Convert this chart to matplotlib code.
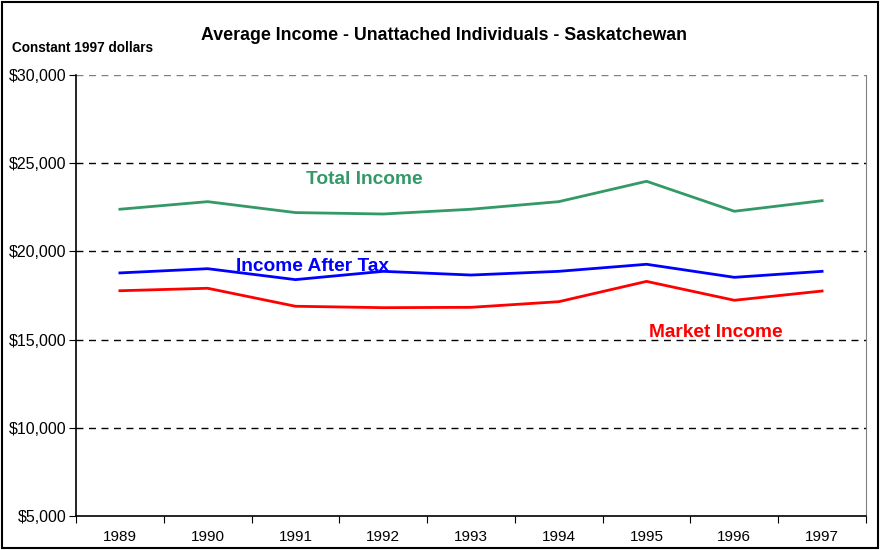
import numpy as np
import matplotlib.pyplot as plt
from matplotlib.patches import Rectangle

plt.rcParams['font.family'] = ['Liberation Sans', 'DejaVu Sans']

years = ['1989', '1990', '1991', '1992', '1993', '1994', '1995', '1996', '1997']
total_income = [22390, 22820, 22200, 22120, 22390, 22820, 23975, 22275, 22875]
after_tax = [18780, 19020, 18400, 18870, 18660, 18870, 19270, 18530, 18870]
market_income = [17770, 17910, 16890, 16810, 16830, 17150, 18300, 17230, 17755]
yticks = [5000, 10000, 15000, 20000, 25000, 30000]

fig = plt.figure(figsize=(8.82, 5.5), dpi=100)
ax = fig.add_axes([76/882, 1-516/550, 790/882, 441/550])

x = np.arange(len(years))
ax.plot(x, total_income, color='#339966', lw=2.0)
ax.plot(x, after_tax, color='#0000ff', lw=2.0)
ax.plot(x, market_income, color='#ff0000', lw=2.0)

ax.set_xlim(-0.5, len(years) - 0.5)
ax.set_ylim(5000, 30000)
ax.set_yticks(yticks)
ax.set_yticklabels(['${:,}'.format(v) for v in yticks], fontsize=11.5)
ax.set_xticks(np.arange(-0.5, len(years)), labels=[])
ax.set_xticks(x, labels=years, minor=True)
ax.tick_params(axis='x', which='major', length=5, direction='out', color='black')
ax.tick_params(axis='x', which='minor', length=0, pad=10, labelsize=11)
ax.tick_params(axis='y', length=5, direction='out', pad=2)

for v in yticks[1:]:
    ax.axhline(v, color='black' if v < 30000 else '#808080', lw=1, ls=(0, (5, 4)), zorder=0)

ax.spines['top'].set_visible(False)
ax.spines['right'].set_color('#808080')
ax.spines['left'].set_linewidth(1.2)
ax.spines['bottom'].set_linewidth(1.2)

ax.text(2.78, 24050, 'Total Income', color='#339966', fontsize=13.8, fontweight='bold', ha='center', va='center')
ax.text(2.19, 19170, 'Income After Tax', color='#0000ff', fontsize=13.8, fontweight='bold', ha='center', va='center')
ax.text(6.79, 15430, 'Market Income', color='#ff0000', fontsize=13.8, fontweight='bold', ha='center', va='center')

fig.text(444/882, 1-36/550, 'Average Income - Unattached Individuals - Saskatchewan',
         fontsize=12.8, fontweight='bold', ha='center', va='center')
fig.text(12/882, 1-48/550, 'Constant 1997 dollars', fontsize=9.8, fontweight='bold',
         ha='left', va='center')

fig.patches.append(Rectangle((2/882, 2/550), 876/882, 546/550, transform=fig.transFigure,
                             fill=False, edgecolor='black', lw=1.5))

fig.savefig('out.png', dpi=100)
